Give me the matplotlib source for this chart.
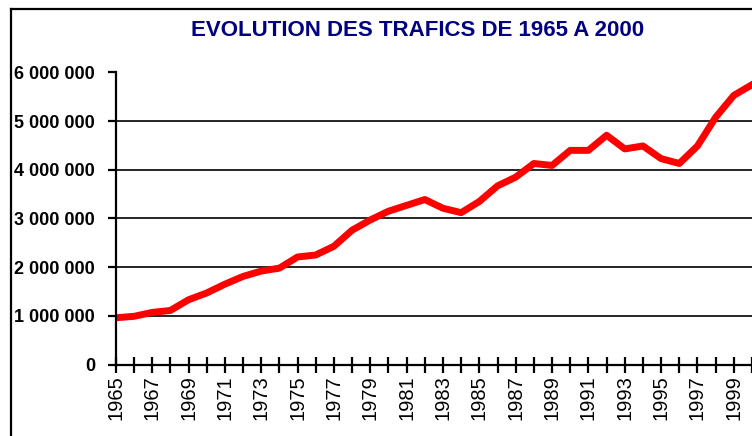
# %% 0 - import libraries
import numpy as np
import matplotlib
matplotlib.use("Agg")
import matplotlib.pyplot as plt
from matplotlib.ticker import FuncFormatter
from matplotlib.lines import Line2D



# %% 1
years   = list(range(1965, 2001))
traffic = [0.96, 0.99, 1.07, 1.11, 1.33, 1.47, 1.65, 1.81, 1.92, 1.98,
           2.21, 2.25, 2.43, 2.76, 2.97, 3.15, 3.27, 3.39, 3.21, 3.12,
           3.35, 3.67, 3.85, 4.13, 4.09, 4.40, 4.40, 4.71, 4.43, 4.49,
           4.23, 4.13, 4.49, 5.08, 5.53, 5.75]
traffic = [v * 1e6 for v in traffic]

title   = "EVOLUTION DES TRAFICS DE 1965 A 2000"
y_ticks = [0, 1e6, 2e6, 3e6, 4e6, 5e6, 6e6]



# %% 2 - figure
plt.rcParams["font.family"] = ["Liberation Sans", "DejaVu Sans"]

W, H = 752, 436
fig = plt.figure(figsize = (W / 100, H / 100), dpi = 100)

x0, x1 = 115.8, 752
y0, y1 = 364.5, 72.5
ax = fig.add_axes([x0 / W, 1 - y0 / H, (x1 - x0) / W, (y0 - y1) / H])

ax.plot(years, traffic, color = "#ff0000", lw = 5.0, solid_joinstyle = "round", zorder = 3)

px_per_year = 18.3
ax.set_xlim(1965, 1965 + (x1 - x0) / px_per_year)
ax.set_ylim(0, 6e6)

ax.set_yticks(y_ticks)
ax.yaxis.set_major_formatter(FuncFormatter(lambda v, p: f"{int(v):,}".replace(",", " ")))
ax.set_xticks(years)
ax.set_xticklabels([str(y) if y % 2 == 1 else "" for y in years], rotation = 90)

ax.grid(axis = "y", color = "black", lw = 1.2)
ax.set_axisbelow(True)

for side in ["top", "right"]:
    ax.spines[side].set_visible(False)
for side in ["left", "bottom"]:
    ax.spines[side].set_linewidth(1.6)
    ax.spines[side].set_zorder(4)

ax.tick_params(axis = "y", direction = "out", length = 6, width = 1.6, pad = 9, labelsize = 13)
ax.tick_params(axis = "x", direction = "inout", length = 11, width = 1.6, pad = 2, labelsize = 14.5)
for lab in ax.get_yticklabels():
    lab.set_fontweight("bold")

fig.text(417.5 / W, 1 - 31 / H, title, ha = "center", va = "center",
         color = "#000080", fontsize = 16, fontweight = "bold")

# chart area border (cropped at right and bottom)
fig.add_artist(Line2D([10.5 / W, 10.5 / W], [0, 1 - 9.5 / H], color = "black", lw = 1.6, transform = fig.transFigure))
fig.add_artist(Line2D([10.5 / W, 1], [1 - 9.5 / H, 1 - 9.5 / H], color = "black", lw = 1.6, transform = fig.transFigure))

fig.savefig("out.png", dpi = 100)
